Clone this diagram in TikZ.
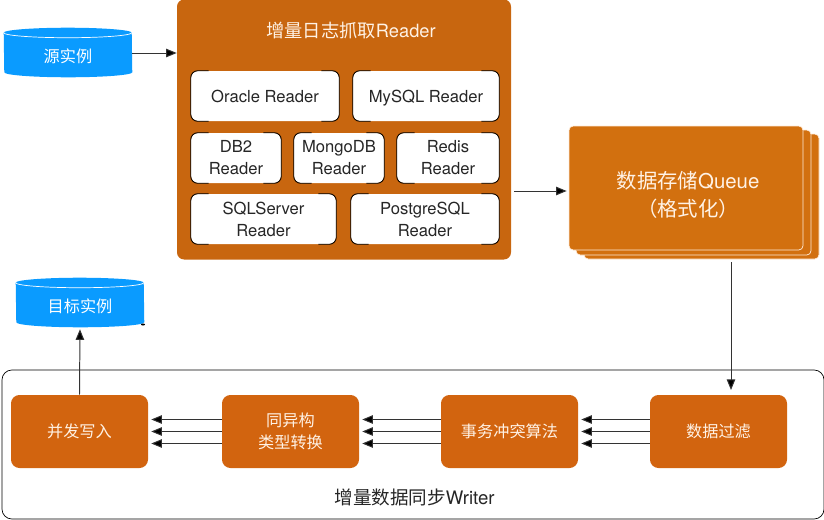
\documentclass[tikz,border=0pt]{standalone}
\usepackage{fontspec}
\setmainfont{Noto Sans CJK SC}
\newfontfamily\latinfont{TeX Gyre Heros}
\usetikzlibrary{arrows.meta,positioning,calc}

\definecolor{panelorange}{HTML}{C8660F}
\definecolor{queueorange}{HTML}{D2700F}
\definecolor{stepfill}{HTML}{D2640F}
\definecolor{dbblue}{HTML}{0A9BFF}
\definecolor{linegray}{HTML}{333333}

\tikzset{
    panel/.style={fill=panelorange, rounded corners=5pt, inner sep=0pt},
    readerbox/.style={fill=white, rounded corners=5pt, inner sep=0pt, align=center, font=\latinfont\fontsize{11.8}{15.6}\selectfont, text=black!85},
    queuebox/.style={fill=queueorange, draw=white!85!orange, line width=0.5pt, rounded corners=3pt, inner sep=0pt},
    stepbox/.style={fill=stepfill, rounded corners=6pt, inner sep=0pt, minimum width=137*0.025cm, minimum height=73*0.025cm, align=center, text=white!90!orange, font=\fontsize{11.5}{16}\selectfont, execute at begin node={\vspace*{2pt}}},
    dbnode/.style={inner sep=0pt, minimum width=128*0.025cm, minimum height=49*0.025cm},
    dbtext/.style={text=white, font=\fontsize{11.5}{14}\selectfont},
    flow/.style={draw=linegray, line width=0.7pt, -{Triangle[length=7.5pt,width=6pt,fill=black]}},
}

% draws the black ends of a reader box, the middle of its long sides stays open
\newcommand{\readerends}[1]{
    \draw[black, line width=0.6pt, rounded corners=5pt]
        ($(#1.north west)+(18,0)$) -- (#1.north west) -- (#1.south west) -- ($(#1.south west)+(18,0)$);
    \draw[black, line width=0.6pt, rounded corners=5pt]
        ($(#1.north east)+(-18,0)$) -- (#1.north east) -- (#1.south east) -- ($(#1.south east)+(-18,0)$);
}

% cylinder behind a named node
\newcommand{\dbbody}[1]{
    \fill[dbblue] ($(#1.north west)+(0,5)$) arc[x radius=64, y radius=5, start angle=180, end angle=360]
        -- ($(#1.south east)+(0,-5)$) arc[x radius=64, y radius=5, start angle=0, end angle=180] -- cycle;
    \draw[white, line width=0.5pt] ($(#1.north west)+(0,5)$) arc[x radius=64, y radius=5, start angle=180, end angle=0];
}

\begin{document}
\begin{tikzpicture}[x=0.025cm, y=-0.025cm]
        \useasboundingbox (0,0) rectangle (824,520);

        % Source and target instances
        \node[dbnode] (source) at (68,52.5) {};
        \node[dbnode] (target) at (80,302.5) {};
        \dbbody{source}
        \dbbody{target}
        \node[dbtext] (sourcetext) at (68,56) {源实例};
        \node[dbtext] (targettext) at (80,306) {目标实例};
        \fill[black] (143,324.5) ellipse (2 and 1);

        % Reader panel
        \node[panel, minimum width=334*0.025cm, minimum height=260*0.025cm] (capture) at (344,129.5) {};
        \node[text=white!90!orange, font=\fontsize{13}{16}\selectfont] (capturetitle) at (351,31) {增量日志抓取{\latinfont Reader}};

        % Readers
        \node[readerbox, minimum width=148*0.025cm, minimum height=50*0.025cm] (oracle) at (265,96) {Oracle Reader};
        \node[readerbox, text depth=0pt, minimum width=146*0.025cm, minimum height=50*0.025cm] (mysql) at (426,96) {MySQL Reader};
        \node[readerbox, minimum width=90*0.025cm, minimum height=50*0.025cm] (db2) at (236,158) {DB2\\Reader};
        \node[readerbox, minimum width=90*0.025cm, minimum height=50*0.025cm] (mongodb) at (339,158) {MongoDB\\Reader};
        \node[readerbox, minimum width=102*0.025cm, minimum height=50*0.025cm] (redis) at (448,158) {Redis\\Reader};
        \node[readerbox, minimum width=145*0.025cm, minimum height=50*0.025cm] (sqlserver) at (263.5,219) {SQLServer\\Reader};
        \node[readerbox, minimum width=148*0.025cm, minimum height=50*0.025cm] (postgresql) at (425,219) {PostgreSQL\\Reader};
        \foreach \reader in {oracle,mysql,db2,mongodb,redis,sqlserver,postgresql} {
            \readerends{\reader}
        }

        % Queue, a stack of three sheets
        \node[queuebox, minimum width=235*0.025cm, minimum height=125*0.025cm] (queuec) at (701.5,196.5) {};
        \node[queuebox, minimum width=235*0.025cm, minimum height=125*0.025cm] (queueb) at (693.5,192.5) {};
        \node[queuebox, minimum width=234*0.025cm, minimum height=124*0.025cm] (queue) at (686,188) {};
        \node[align=center, text=white!90!orange, font=\fontsize{14.5}{20}\selectfont] (queuetext) at (688,195) {数据存储{\latinfont Queue}\\（格式化）};

        % Writer frame
        \node[draw=black, line width=0.5pt, rounded corners=7pt, minimum width=822*0.025cm, minimum height=149*0.025cm, inner sep=0pt] (writer) at (413,444.5) {};
        \node[font=\fontsize{13.2}{16}\selectfont, text=black!85] (writertitle) at (414.5,497) {增量数据同步{\latinfont Writer}};

        % Writer steps
        \node[stepbox] (concurrent) at (79.5,431.5) {并发写入};
        \node[stepbox] (convert) at (290.5,431.5) {同异构\\类型转换};
        \node[stepbox] (conflict) at (509.5,431.5) {事务冲突算法};
        \node[stepbox] (filter) at (718.5,431.5) {数据过滤};

        % Connectors
        \coordinate (sourceout) at (132,53);
        \coordinate (filterin) at (731,390);
        \draw[flow] (sourceout) -- (capture.west |- sourceout);
        \draw[flow, shorten <=3*0.025cm, shorten >=2*0.025cm] ($(capture.east |- queue.west)+(0,3)$) -- ($(queue.west)+(0,3)$);
        \draw[flow, shorten <=3*0.025cm] (queuec.south -| filterin) -- (filterin);
        \draw[flow, shorten >=2*0.025cm] (concurrent.north) -- (target.south);
        \foreach \dy in {-12,0,12} {
            \draw[flow, shorten >=3*0.025cm] ($(convert.west)+(0,\dy)$) -- ($(concurrent.east)+(0,\dy)$);
            \draw[flow, shorten >=3*0.025cm] ($(conflict.west)+(0,\dy)$) -- ($(convert.east)+(0,\dy)$);
            \draw[flow, shorten >=3*0.025cm] ($(filter.west)+(0,\dy)$) -- ($(conflict.east)+(0,\dy)$);
        }
    \end{tikzpicture}
\end{document}
